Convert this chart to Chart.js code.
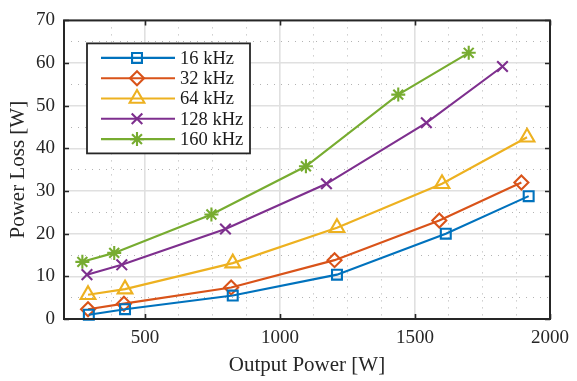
<!DOCTYPE html>
<html>
<head>
<meta charset="utf-8">
<script src="https://cdn.jsdelivr.net/npm/chart.js@4.4.1/dist/chart.umd.min.js"></script>
<style>
  html, body { margin: 0; padding: 0; background: #ffffff; }
  #wrap { width: 577px; height: 381px; position: relative; }
</style>
</head>
<body>
<div id="wrap"><canvas id="c" width="577" height="381"></canvas></div>
<script>
// ---- data ----
const seriesLabels = ['16 kHz', '32 kHz', '64 kHz', '128 kHz', '160 kHz'];
const power16  = [292, 426, 825, 1211, 1614, 1921];
const loss16   = [1.0, 2.3, 5.5, 10.4, 20.0, 28.8];
const power32  = [289, 422, 819, 1202, 1590, 1894];
const loss32   = [2.3, 3.6, 7.4, 13.8, 23.1, 32.0];
const power64  = [289, 426, 825, 1211, 1600, 1915];
const loss64   = [5.7, 7.0, 13.1, 21.4, 31.7, 42.6];
const power128 = [285, 414, 798, 1172, 1542, 1824];
const loss128  = [10.4, 12.7, 21.1, 31.7, 46.0, 59.2];
const power160 = [268, 386, 746, 1096, 1438, 1699];
const loss160  = [13.4, 15.5, 24.5, 35.8, 52.6, 62.4];
const xTickValues = [500, 1000, 1500, 2000];
const yTickValues = [0, 10, 20, 30, 40, 50, 60, 70];

// ---- styles ----
const colors = ['#0072BD', '#D95319', '#EDB120', '#7E2F8E', '#77AC30'];
const markers = ['rect', 'rectRot', 'triangle', 'crossRot', 'star'];
const markerRadius = [7, 7, 8.5, 7.5, 7];
const FONT = "'Liberation Serif', 'Times New Roman', serif";
const AXIS_COLOR = '#262626';

function pts(xs, ys) { return xs.map((x, i) => ({ x: x, y: ys[i] })); }
const seriesX = [power16, power32, power64, power128, power160];
const seriesY = [loss16, loss32, loss64, loss128, loss160];

const datasets = seriesLabels.map((lab, i) => ({
  label: lab,
  data: pts(seriesX[i], seriesY[i]),
  borderColor: colors[i],
  backgroundColor: colors[i],
  borderWidth: 2.1,
  pointStyle: markers[i],
  pointRadius: markerRadius[i],
  pointBorderWidth: 2.1,
  pointBackgroundColor: 'rgba(0,0,0,0)',
  pointBorderColor: colors[i],
  tension: 0,
  clip: false
}));

// frame + inward tick marks
const framePlugin = {
  id: 'frame',
  afterDatasetsDraw(chart) {
    const ctx = chart.ctx, a = chart.chartArea;
    const xs = chart.scales.x, ys = chart.scales.y;
    ctx.save();
    ctx.strokeStyle = AXIS_COLOR;
    ctx.lineWidth = 1.6;
    const tl = 5;
    ctx.beginPath();
    xTickValues.forEach(v => {
      const px = Math.round(xs.getPixelForValue(v)) + 0.5;
      ctx.moveTo(px, a.bottom); ctx.lineTo(px, a.bottom - tl);
      ctx.moveTo(px, a.top); ctx.lineTo(px, a.top + tl);
    });
    yTickValues.forEach(v => {
      const py = Math.round(ys.getPixelForValue(v)) + 0.5;
      ctx.moveTo(a.left, py); ctx.lineTo(a.left + tl, py);
      ctx.moveTo(a.right, py); ctx.lineTo(a.right - tl, py);
    });
    ctx.stroke();
    ctx.lineWidth = 2;
    ctx.strokeRect(a.left, a.top, a.right - a.left, a.bottom - a.top);
    ctx.restore();
  }
};

// boxed legend inside the plot (line + marker + text)
const legendPlugin = {
  id: 'boxLegend',
  afterDraw(chart) {
    const ctx = chart.ctx, a = chart.chartArea;
    const bx = a.left + 23, by = a.top + 23, bw = 163, bh = 110;
    ctx.save();
    ctx.fillStyle = '#ffffff';
    ctx.fillRect(bx, by, bw, bh);
    ctx.strokeStyle = AXIS_COLOR;
    ctx.lineWidth = 1.8;
    ctx.strokeRect(bx, by, bw, bh);
    ctx.font = "18.5px " + FONT;
    ctx.textBaseline = 'middle';
    ctx.textAlign = 'left';
    chart.data.datasets.forEach((ds, i) => {
      const cy = by + 14.5 + i * 20.3;
      const x0 = bx + 14, x1 = bx + 88, mx = bx + 50;
      ctx.strokeStyle = ds.borderColor;
      ctx.lineWidth = 2.1;
      ctx.beginPath(); ctx.moveTo(x0, cy); ctx.lineTo(x1, cy); ctx.stroke();
      ctx.fillStyle = 'rgba(0,0,0,0)';
      Chart.helpers.drawPoint(ctx, {
        pointStyle: ds.pointStyle, radius: ds.pointRadius,
        borderWidth: ds.pointBorderWidth, rotation: 0
      }, mx, cy);
      ctx.fillStyle = '#1a1a1a';
      ctx.fillText(ds.label, bx + 93, cy + 1);
    });
    ctx.restore();
  }
};

new Chart(document.getElementById('c'), {
  type: 'line',
  data: { datasets: datasets },
  plugins: [framePlugin, legendPlugin],
  options: {
    responsive: false,
    animation: false,
    devicePixelRatio: 1,
    layout: { padding: { top: 11, right: 19, bottom: 0, left: 0 } },
    plugins: { legend: { display: false }, tooltip: { enabled: false } },
    scales: {
      xm: {
        type: 'linear', position: 'bottom', min: 200, max: 2000,
        ticks: { display: false, stepSize: 125 },
        grid: {
          drawTicks: false,
          color: c => (c.tick && c.tick.value % 500 === 0) || (c.tick && c.tick.value === 200) ? 'rgba(0,0,0,0)' : '#b3b3b3',
          lineWidth: 1
        },
        border: { display: false, dash: [1, 6] },
        afterFit: s => { s.height = 0; }
      },
      ym: {
        type: 'linear', position: 'left', min: 0, max: 70,
        ticks: { display: false, stepSize: 5 },
        grid: {
          drawTicks: false,
          color: c => (c.tick && c.tick.value % 10 === 0) ? 'rgba(0,0,0,0)' : '#b3b3b3',
          lineWidth: 1
        },
        border: { display: false, dash: [1, 6] },
        afterFit: s => { s.width = 0; }
      },
      x: {
        type: 'linear', position: 'bottom', min: 200, max: 2000,
        afterBuildTicks: s => { s.ticks = xTickValues.map(v => ({ value: v })); },
        ticks: {
          color: AXIS_COLOR, padding: 8, maxRotation: 0,
          font: { family: FONT, size: 19 },
          callback: v => String(v)
        },
        grid: { drawTicks: false, color: '#e0e0e0', lineWidth: 1.6 },
        border: { display: false },
        title: {
          display: true, text: 'Output Power [W]', color: AXIS_COLOR,
          font: { family: FONT, size: 21 }, padding: { top: 0, bottom: 3 }
        },
        afterFit: s => { s.height = 62; }
      },
      y: {
        type: 'linear', position: 'left', min: 0, max: 70,
        afterBuildTicks: s => { s.ticks = yTickValues.map(v => ({ value: v })); },
        ticks: {
          color: AXIS_COLOR, padding: 9,
          font: { family: FONT, size: 19 },
          callback: v => String(v)
        },
        grid: { drawTicks: false, color: '#e0e0e0', lineWidth: 1.6 },
        border: { display: false },
        title: {
          display: true, text: 'Power Loss [W]', color: AXIS_COLOR,
          font: { family: FONT, size: 21 }, padding: { top: 6, bottom: 0 }
        },
        afterFit: s => { s.width = 64; }
      }
    }
  }
});
</script>
</body>
</html>
